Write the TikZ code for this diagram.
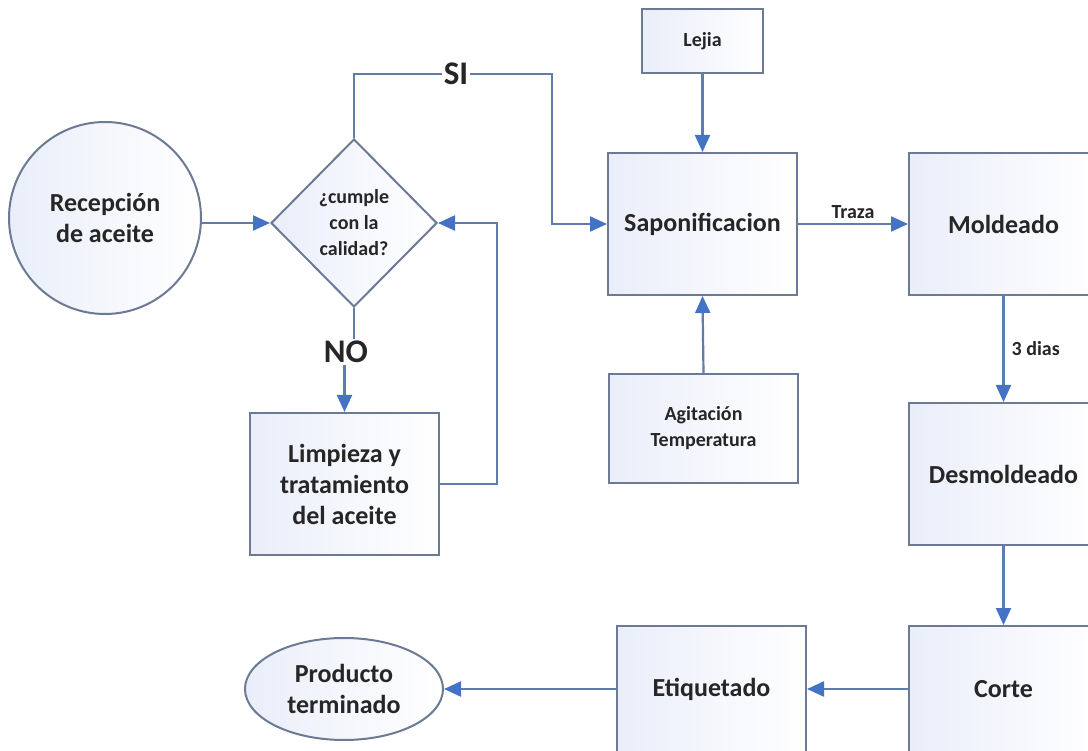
\documentclass[tikz,border=0pt]{standalone}
\usepackage{fontspec}
\setmainfont{Carlito}
\usetikzlibrary{shapes.geometric,arrows.meta}

\definecolor{edge}{RGB}{108,122,148}
\definecolor{wire}{RGB}{96,124,168}
\definecolor{tipblue}{RGB}{68,114,196}
\definecolor{ink}{RGB}{38,38,38}
\definecolor{tint}{RGB}{234,238,250}

\tikzset{
  x=1pt, y=-1pt,
  shape fill/.style={left color=tint, right color=white, draw=edge, line width=2pt},
  box/.style={shape fill, rectangle, inner sep=0pt, text=ink, font=\bfseries\fontsize{26}{31}\selectfont, align=center},
  smallbox/.style={box, font=\bfseries\fontsize{20}{26}\selectfont},
  flow/.style={draw=wire, line width=2.2pt, -{Triangle[length=17pt,width=15pt,color=tipblue]}},
  plain/.style={draw=wire, line width=2.2pt},
  tag/.style={text=ink, font=\bfseries\fontsize{20}{22}\selectfont, inner sep=1pt},
  bigtag/.style={text=ink, font=\bfseries\fontsize{33}{34}\selectfont, fill=white, inner sep=2pt}
}

\begin{document}
\begin{tikzpicture}
\clip (0,0) rectangle (1088,751);
\fill[white] (0,0) rectangle (1088,751);

% process steps
\node[box, circle, minimum size=192pt] (rec) at (105,218) {Recepción\\de aceite};
\node[box, diamond, minimum width=166pt, minimum height=168pt, font=\bfseries\fontsize{20}{26}\selectfont] (q) at (354,223) {¿cumple\\con la\\calidad?};
\node[box, minimum width=189pt, minimum height=142pt] (lim) at (344.5,484) {Limpieza y\\tratamiento\\del aceite};
\node[box, minimum width=189pt, minimum height=142pt] (sap) at (702.5,224) {Saponificacion};
\node[smallbox, minimum width=121pt, minimum height=64pt] (lej) at (702.5,41) {Lejia};
\node[smallbox, minimum width=189pt, minimum height=109pt] (agi) at (703.5,428.5) {Agitación\\Temperatura};
\node[box, minimum width=189pt, minimum height=142pt] (mol) at (1003.5,224) {Moldeado};
\node[box, minimum width=189pt, minimum height=142pt] (des) at (1003.5,474) {Desmoldeado};
\node[box, minimum width=189pt, minimum height=126pt] (cor) at (1003.5,689) {Corte};
\node[box, minimum width=189pt, minimum height=126pt] (eti) at (711.5,689) {Etiquetado};
\node[box, ellipse, minimum width=198pt, minimum height=102pt] (prod) at (344,689) {Producto\\terminado};

% decision branches
\coordinate (sitop) at (552,74);
\coordinate (back) at (497,223);
\draw[flow] (rec.east |- q.west) -- (q.west);
\draw[flow] (q.north) |- (sitop) |- (sap.west);
\node[bigtag] (si) at (456,74) {SI};
\node[bigtag] (no) at (346,352) {NO};
\draw[plain] (q.south) -- (q.south |- no.north);
\draw[flow] (lim.north |- no.south) -- (lim.north);
\draw[flow] (lim.east) -| (back) -- (q.east);

% main line
\draw[flow] (lej.south) -- (sap.north);
\draw[flow] (agi.north) -- (sap.south);
\draw[flow] (sap.east) -- node[tag, above=3pt] (traza) {Traza} (mol.west);
\draw[flow] (mol.south) -- node[tag, right=6pt] (dias) {3 dias} (des.north);
\draw[flow] (des.south) -- (cor.north);
\draw[flow] (cor.west) -- (eti.east);
\draw[flow] (eti.west) -- (prod.east);
\end{tikzpicture}
\end{document}
